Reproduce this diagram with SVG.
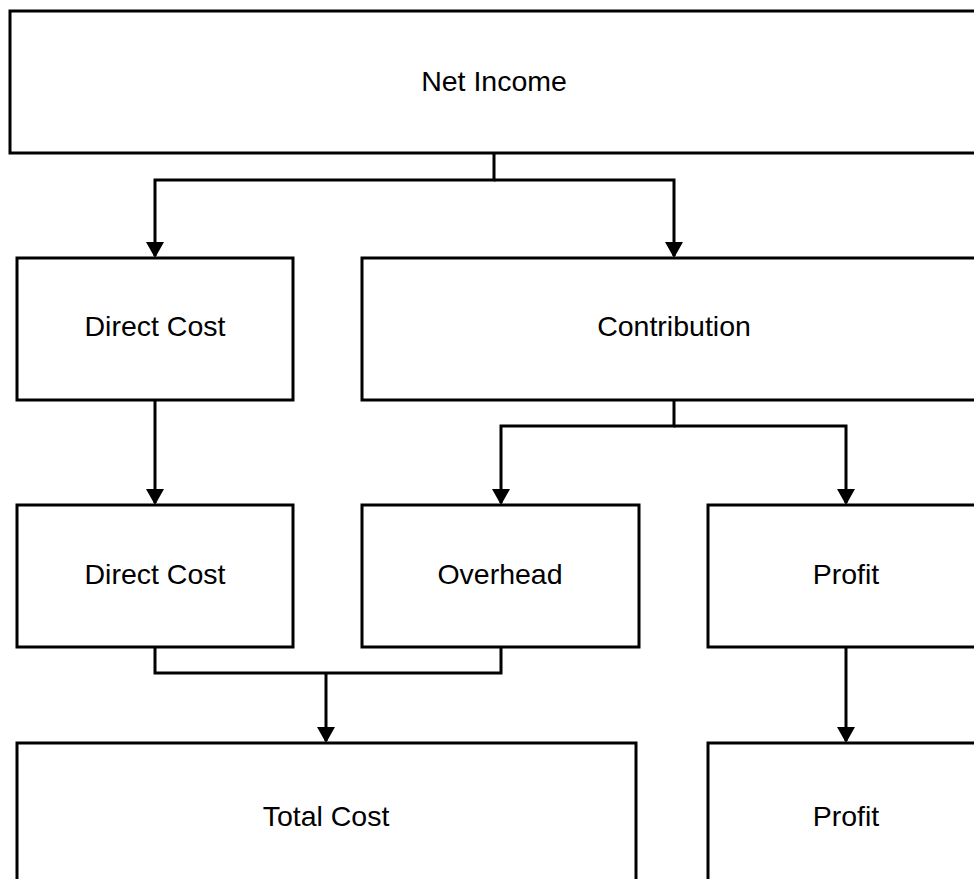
<svg xmlns="http://www.w3.org/2000/svg" width="974" height="879" viewBox="0 0 974 879">
<style>
.box{fill:#fff;stroke:#000;stroke-width:3}
.lbl{font-family:"Liberation Sans",Arial,sans-serif;font-size:28.5px;fill:#000;text-anchor:middle}
.con{fill:none;stroke:#000;stroke-width:3}
</style>
<defs>
<marker id="arr" markerUnits="userSpaceOnUse" markerWidth="18" markerHeight="18" refX="9" refY="16" orient="auto-start-reverse" viewBox="0 0 18 18">
<path d="M0,0 L18,0 L9,16 z" fill="#000"/>
</marker>
</defs>
<rect width="974" height="879" fill="#fff"/>
<g id="connectors">
<path class="con" d="M494,153 V180 H155 V256"/>
<path class="con" d="M494,180 H674 V256"/>
<path class="con" d="M155,400 V503" />
<path class="con" d="M674,400 V426 H501 V503"/>
<path class="con" d="M674,426 H846 V503"/>
<path class="con" d="M155,647 V673 H501 V647"/>
<path class="con" d="M326,673 V741"/>
<path class="con" d="M846,647 V741"/>
<g fill="#000">
<path d="M146,242 L164,242 L155,258 z"/>
<path d="M665,242 L683,242 L674,258 z"/>
<path d="M146,489 L164,489 L155,505 z"/>
<path d="M492,489 L510,489 L501,505 z"/>
<path d="M837,489 L855,489 L846,505 z"/>
<path d="M317,727 L335,727 L326,743 z"/>
<path d="M837,727 L855,727 L846,743 z"/>
</g>
</g>
<g id="net-income"><rect class="box" x="10" y="11" width="970" height="142"/><text class="lbl" x="494" y="91">Net Income</text></g>
<g id="direct-cost-1"><rect class="box" x="17" y="258" width="276" height="142"/><text class="lbl" x="155" y="336">Direct Cost</text></g>
<g id="contribution"><rect class="box" x="362" y="258" width="624" height="142"/><text class="lbl" x="674" y="336">Contribution</text></g>
<g id="direct-cost-2"><rect class="box" x="17" y="505" width="276" height="142"/><text class="lbl" x="155" y="584">Direct Cost</text></g>
<g id="overhead"><rect class="box" x="362" y="505" width="277" height="142"/><text class="lbl" x="500" y="584">Overhead</text></g>
<g id="profit-1"><rect class="box" x="708" y="505" width="276" height="142"/><text class="lbl" x="846" y="584">Profit</text></g>
<g id="total-cost"><rect class="box" x="17" y="743" width="619" height="142"/><text class="lbl" x="326" y="826">Total Cost</text></g>
<g id="profit-2"><rect class="box" x="708" y="743" width="276" height="142"/><text class="lbl" x="846" y="826">Profit</text></g>
</svg>
